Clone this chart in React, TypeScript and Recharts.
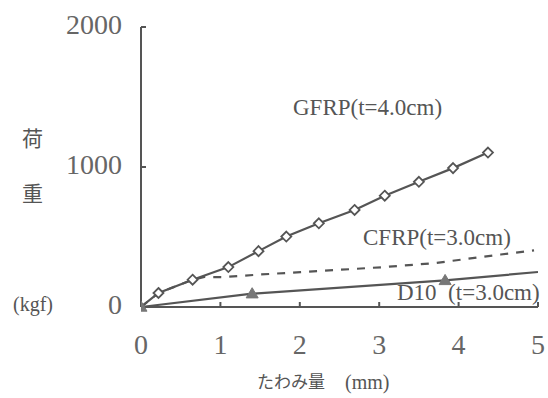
import React from 'react';
import { LineChart, Line, XAxis, YAxis } from 'recharts';

// deflection (mm) vs load (kgf)
const gfrpX = [0, 0.22, 0.65, 1.1, 1.48, 1.83, 2.24, 2.69, 3.07, 3.5, 3.93, 4.37];
const gfrpY = [0, 100, 195, 285, 399, 503, 598, 693, 795, 894, 992, 1103];

const cfrpX = [0, 0.22, 0.65, 0.8, 1.02, 1.5, 2.01, 2.51, 3.06, 3.69, 4.11, 4.53, 4.95];
const cfrpY = [0, 100, 195, 215, 213, 232, 249, 266, 285, 313, 344, 375, 405];

const d10X = [0, 1.4, 3.83, 5];
const d10Y = [0, 95, 190, 250];

const xTicks = [0, 1, 2, 3, 4, 5];
const yTicks = [0, 1000, 2000];

const gfrp = gfrpX.map((x, i) => ({ x, y: gfrpY[i] }));
const cfrp = cfrpX.map((x, i) => ({ x, y: cfrpY[i] }));
const d10 = d10X.map((x, i) => ({ x, y: d10Y[i] }));

const INK = '#555';
const SERIF = '"Liberation Serif", "Times New Roman", serif';
const MINCHO = '"Noto Sans CJK JP", sans-serif';

const Diamond = (props: any) => {
  const { cx, cy, index } = props;
  if (cx == null || cy == null || index === 0) return <g key={`d-${index}`} />;
  const s = 5;
  return (
    <polygon
      key={`d-${index}`}
      points={`${cx},${cy - s} ${cx + s},${cy} ${cx},${cy + s} ${cx - s},${cy}`}
      fill="#fff"
      stroke={INK}
      strokeWidth={1.8}
    />
  );
};

const Tri = (props: any) => {
  const { cx, cy, index } = props;
  if (cx == null || cy == null || index === d10X.length - 1) return <g key={`t-${index}`} />;
  const s = 6;
  return (
    <polygon
      key={`t-${index}`}
      points={`${cx},${cy - s} ${cx + s},${cy + s * 0.7} ${cx - s},${cy + s * 0.7}`}
      fill="#777"
      stroke="#777"
    />
  );
};

const txt = (left: number, top: number, size: number, font: string): React.CSSProperties => ({
  position: 'absolute',
  left,
  top,
  fontSize: size,
  fontFamily: font,
  color: INK,
  whiteSpace: 'pre',
  lineHeight: 1,
});

export default function App() {
  return (
    <div style={{ position: 'absolute', left: 0, top: 0, width: 548, height: 398, background: '#fff' }}>
      <LineChart width={548} height={398} margin={{ top: 27, right: 10, left: 81, bottom: 51 }}>
        <XAxis
          type="number"
          dataKey="x"
          domain={[0, 5]}
          ticks={xTicks}
          allowDataOverflow
          height={40}
          stroke={INK}
          strokeWidth={2}
          tickSize={-5}
          tickMargin={32}
          tick={{ fontSize: 28, fontFamily: SERIF, fill: '#666' }}
        />
        <YAxis
          type="number"
          dataKey="y"
          domain={[0, 2000]}
          ticks={yTicks}
          width={60}
          stroke={INK}
          strokeWidth={2}
          tickSize={-5}
          tickMargin={24}
          tick={{ fontSize: 28, fontFamily: SERIF, fill: '#666', dy: -3 }}
        />
        <Line data={cfrp} dataKey="y" stroke={INK} strokeWidth={2.2} strokeDasharray="8 8" dot={false} isAnimationActive={false} />
        <Line data={d10} dataKey="y" stroke={INK} strokeWidth={2.2} dot={<Tri />} isAnimationActive={false} />
        <Line data={gfrp} dataKey="y" stroke={INK} strokeWidth={2.2} dot={<Diamond />} isAnimationActive={false} />
      </LineChart>

      <div style={txt(293, 96, 23, SERIF)}>GFRP(t=4.0cm)</div>
      <div style={txt(363, 226, 23, SERIF)}>CFRP(t=3.0cm)</div>
      <div style={txt(397, 281, 23, SERIF)}>D10  (t=3.0cm)</div>

      <div style={txt(22, 127, 21, MINCHO)}>荷</div>
      <div style={txt(22, 182, 21, MINCHO)}>重</div>
      <div style={txt(13, 294, 20, SERIF)}>(kgf)</div>

      <div style={txt(257, 372, 17, MINCHO)}>たわみ量</div>
      <div style={txt(345, 372, 20, SERIF)}>(mm)</div>
    </div>
  );
}
